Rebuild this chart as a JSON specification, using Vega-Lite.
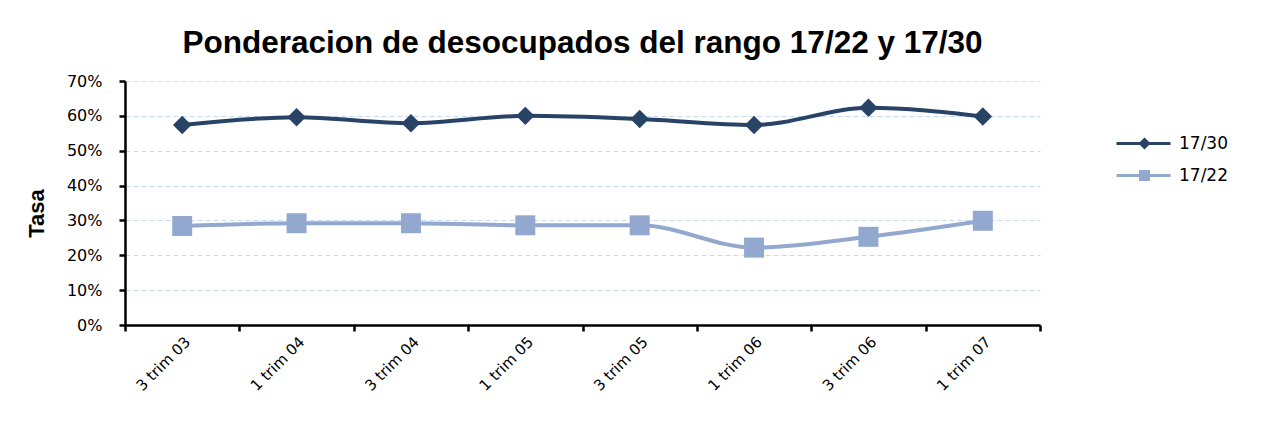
{
  "$schema": "https://vega.github.io/schema/vega-lite/v6.json",
  "width": 915,
  "height": 244,
  "autosize": {"type": "none"},
  "padding": {"left": 125, "top": 81, "right": 244, "bottom": 105},
  "background": "white",
  "config": {"view": {"stroke": null}},
  "title": {
    "text": "Ponderacion de desocupados del rango 17/22 y 17/30",
    "font": "Liberation Sans",
    "fontSize": 31.5,
    "fontWeight": "bold",
    "color": "black",
    "anchor": "middle",
    "baseline": "alphabetic",
    "offset": -11
  },
  "data": {
    "values": [
      {"periodo": "3 trim 03", "serie": "17/30", "tasa": 0.574},
      {"periodo": "1 trim 04", "serie": "17/30", "tasa": 0.596},
      {"periodo": "3 trim 04", "serie": "17/30", "tasa": 0.579},
      {"periodo": "1 trim 05", "serie": "17/30", "tasa": 0.600},
      {"periodo": "3 trim 05", "serie": "17/30", "tasa": 0.591},
      {"periodo": "1 trim 06", "serie": "17/30", "tasa": 0.574},
      {"periodo": "3 trim 06", "serie": "17/30", "tasa": 0.623},
      {"periodo": "1 trim 07", "serie": "17/30", "tasa": 0.598},
      {"periodo": "3 trim 03", "serie": "17/22", "tasa": 0.284},
      {"periodo": "1 trim 04", "serie": "17/22", "tasa": 0.292},
      {"periodo": "3 trim 04", "serie": "17/22", "tasa": 0.292},
      {"periodo": "1 trim 05", "serie": "17/22", "tasa": 0.286},
      {"periodo": "3 trim 05", "serie": "17/22", "tasa": 0.286},
      {"periodo": "1 trim 06", "serie": "17/22", "tasa": 0.222},
      {"periodo": "3 trim 06", "serie": "17/22", "tasa": 0.253},
      {"periodo": "1 trim 07", "serie": "17/22", "tasa": 0.299}
    ]
  },
  "encoding": {
    "x": {
      "field": "periodo",
      "type": "ordinal",
      "sort": null,
      "scale": {"type": "band", "paddingInner": 0, "paddingOuter": 0},
      "axis": {
        "title": null,
        "labelAngle": -45,
        "labelAlign": "right",
        "labelBaseline": "middle",
        "labelPadding": 8,
        "labelOffset": 5,
        "labelFont": "DejaVu Sans",
        "labelFontSize": 15,
        "labelColor": "black",
        "domainColor": "black",
        "domainWidth": 2.5,
        "tickColor": "black",
        "tickWidth": 2.5,
        "tickSize": 6,
        "tickBand": "extent",
        "grid": false
      }
    },
    "y": {
      "field": "tasa",
      "type": "quantitative",
      "scale": {"domain": [0, 0.7]},
      "axis": {
        "title": "Tasa",
        "titleFont": "Liberation Sans",
        "titleFontSize": 22,
        "titleFontWeight": "bold",
        "titleColor": "black",
        "titlePadding": 18,
        "titleY": 132,
        "format": ".0%",
        "values": [0, 0.1, 0.2, 0.3, 0.4, 0.5, 0.6, 0.7],
        "labelFont": "DejaVu Sans",
        "labelFontSize": 16,
        "labelColor": "black",
        "labelPadding": 17,
        "domainColor": "black",
        "domainWidth": 2.5,
        "tickColor": "black",
        "tickWidth": 2.5,
        "tickSize": 6,
        "grid": true,
        "gridColor": "#C6D9F1",
        "gridDash": [5, 3],
        "gridWidth": 1.2
      }
    },
    "color": {
      "field": "serie",
      "type": "nominal",
      "scale": {"domain": ["17/30", "17/22"], "range": ["#284366", "#93A8CE"]},
      "legend": {
        "title": null,
        "orient": "none",
        "legendX": 988,
        "legendY": 54,
        "padding": 0,
        "symbolSize": 100,
        "symbolType": "M-1,0H9.8",
        "symbolStrokeWidth": 3,
        "labelFont": "DejaVu Sans",
        "labelFontSize": 17,
        "labelColor": "black",
        "labelOffset": 49,
        "rowPadding": 11,
        "encode": {
          "symbols": {
            "update": {
              "shape": {"signal": "datum.value === '17/30' ? 'M-1,0H9.8M4.6,-0.8L5.4,0L4.6,0.8L3.8,0Z' : 'M-1,0H9.8M3.8,-0.8H5.4V0.8H3.8Z'"},
              "fill": {"signal": "scale('color', datum.value)"},
              "stroke": {"signal": "scale('color', datum.value)"},
              "strokeWidth": {"value": 3},
              "size": {"value": 100},
              "opacity": {"value": 1}
            }
          }
        }
      }
    }
  },
  "layer": [
    {
      "mark": {"type": "line", "interpolate": "monotone", "strokeWidth": 4}
    },
    {
      "transform": [{"filter": "datum.serie === '17/30'"}],
      "mark": {"type": "point", "filled": true, "opacity": 1, "shape": "diamond", "size": 340}
    },
    {
      "transform": [{"filter": "datum.serie === '17/22'"}],
      "mark": {"type": "point", "filled": true, "opacity": 1, "shape": "square", "size": 400}
    }
  ]
}
